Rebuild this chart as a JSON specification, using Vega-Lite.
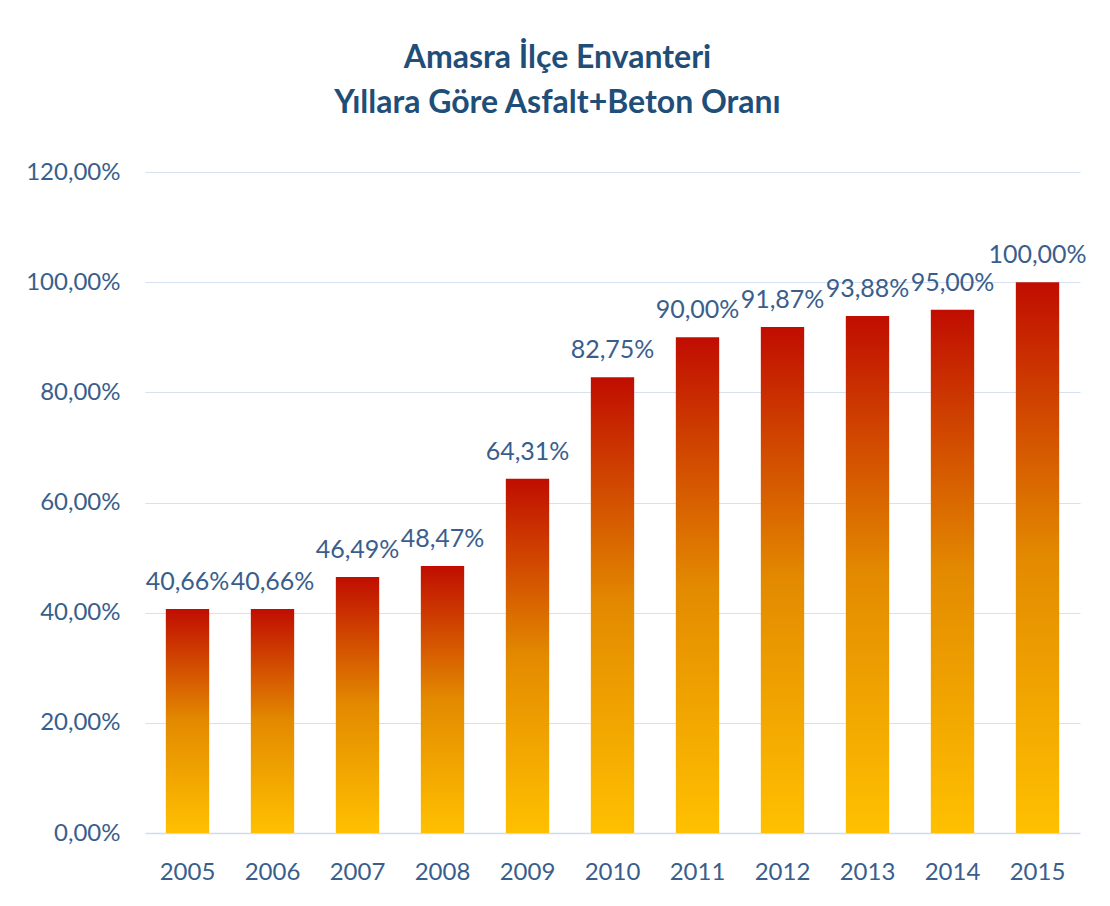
{
  "$schema": "https://vega.github.io/schema/vega-lite/v6.json",
  "width": 935,
  "height": 661,
  "autosize": {"type": "none"},
  "padding": {"left": 145, "top": 172, "right": 30, "bottom": 73},
  "background": "white",
  "config": {
    "locale": {"number": {"decimal": ",", "thousands": ".", "grouping": [3], "currency": ["", " TL"]}},
    "view": {"stroke": null},
    "font": "Lato"
  },
  "title": {
    "text": ["Amasra İlçe Envanteri", "Yıllara Göre Asfalt+Beton Oranı"],
    "font": "Lato",
    "fontSize": 32,
    "fontWeight": "bold",
    "color": "#1F4E79",
    "anchor": "middle",
    "dx": -55,
    "offset": 40,
    "lineHeight": 45
  },
  "data": {
    "values": [
      {"year": "2005", "value": 0.4066},
      {"year": "2006", "value": 0.4066},
      {"year": "2007", "value": 0.4649},
      {"year": "2008", "value": 0.4847},
      {"year": "2009", "value": 0.6431},
      {"year": "2010", "value": 0.8275},
      {"year": "2011", "value": 0.9000},
      {"year": "2012", "value": 0.9187},
      {"year": "2013", "value": 0.9388},
      {"year": "2014", "value": 0.9500},
      {"year": "2015", "value": 1.0000}
    ]
  },
  "encoding": {
    "x": {
      "field": "year",
      "type": "ordinal",
      "scale": {"paddingInner": 0.49, "paddingOuter": 0.245},
      "axis": {
        "title": null,
        "labelAngle": 0,
        "labelFont": "Lato",
        "labelFontSize": 24,
        "labelColor": "#3A5E8C",
        "labelPadding": 27,
        "ticks": false,
        "domainColor": "#D0DCEE",
        "domainWidth": 1.5
      }
    },
    "y": {
      "field": "value",
      "type": "quantitative",
      "scale": {"domain": [0, 1.2], "nice": false},
      "axis": {
        "title": null,
        "format": ".2%",
        "values": [0, 0.2, 0.4, 0.6, 0.8, 1.0, 1.2],
        "labelFont": "Lato",
        "labelFontSize": 24,
        "labelColor": "#3A5E8C",
        "labelPadding": 25,
        "ticks": false,
        "domain": false,
        "gridColor": "#D6E1F1",
        "gridWidth": 1.2
      }
    }
  },
  "layer": [
    {
      "mark": {
        "type": "bar",
        "color": {
          "gradient": "linear",
          "x1": 0, "y1": 0, "x2": 0, "y2": 1,
          "stops": [
            {"offset": 0, "color": "#C00D00"},
            {"offset": 0.5, "color": "#E38A00"},
            {"offset": 1, "color": "#FFC000"}
          ]
        }
      }
    },
    {
      "mark": {
        "type": "text",
        "baseline": "bottom",
        "dy": -14,
        "font": "Lato",
        "fontSize": 25,
        "color": "#3A5E8C"
      },
      "encoding": {
        "text": {"field": "value", "type": "quantitative", "format": ".2%"}
      }
    }
  ]
}
